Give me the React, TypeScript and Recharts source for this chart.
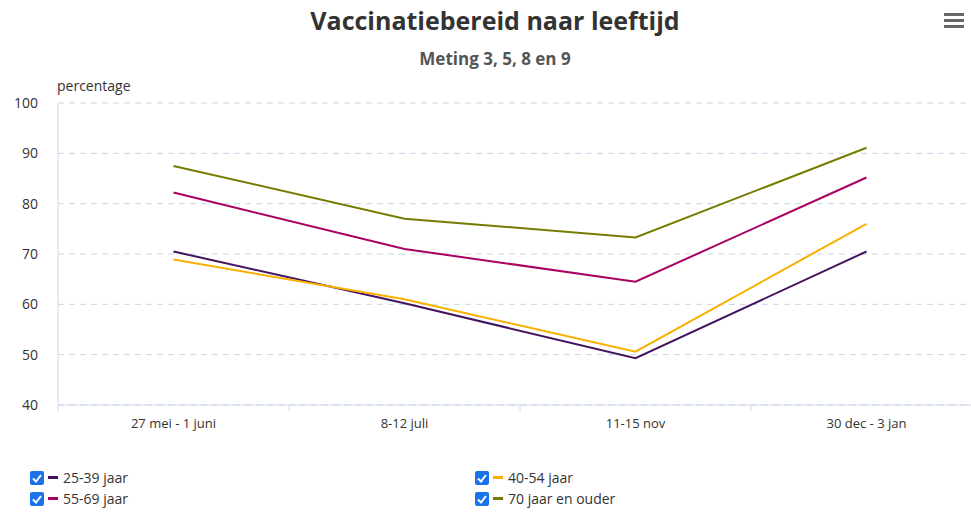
import { LineChart, Line, XAxis, YAxis, CartesianGrid } from "recharts";

const periods = ["27 mei - 1 juni", "8-12 juli", "11-15 nov", "30 dec - 3 jan"];
const age25to39 = [70.5, 60.2, 49.3, 70.5];
const age40to54 = [68.9, 61.0, 50.6, 76.0];
const age55to69 = [82.2, 71.0, 64.5, 85.2];
const age70plus = [87.5, 77.0, 73.3, 91.1];
const yTicks = [40, 50, 60, 70, 80, 90, 100];
const xTicks = [0, 0.5, 1, 1.5, 2, 2.5, 3, 3.5, 4];

const series = [
  { key: "a", name: "25-39 jaar", color: "#42145f", values: age25to39 },
  { key: "b", name: "40-54 jaar", color: "#f9b000", values: age40to54 },
  { key: "c", name: "55-69 jaar", color: "#a90061", values: age55to69 },
  { key: "d", name: "70 jaar en ouder", color: "#777c00", values: age70plus },
];

const data = periods.map((p, i) => {
  const row: Record<string, number | string> = { pos: i + 0.5, label: p };
  series.forEach((s) => (row[s.key] = s.values[i]));
  return row;
});

const FONT = "'Open Sans', sans-serif";

function XTick(props: any) {
  const { x, y, payload } = props;
  const v = payload.value as number;
  if (Number.isInteger(v)) {
    return <line x1={x} x2={x} y1={y - 8} y2={y - 2} stroke="#ccd6eb" strokeWidth={1} />;
  }
  return (
    <text x={x} y={y + 15} textAnchor="middle" fontSize={13} fill="#333" fontFamily={FONT}>
      {periods[Math.floor(v)]}
    </text>
  );
}

function Check() {
  return (
    <svg width={14} height={14} style={{ marginRight: 4 }}>
      <rect x={0} y={0} width={14} height={14} rx={2} fill="#1a73e8" />
      <path d="M3 7.5 L6 10.5 L11 4" stroke="#fff" strokeWidth={2} fill="none" />
    </svg>
  );
}

function LegendItem({ name, color }: { name: string; color: string }) {
  return (
    <div style={{ display: "flex", alignItems: "center", height: 21 }}>
      <Check />
      <span style={{ display: "inline-block", width: 10, height: 3, background: color, marginRight: 5 }} />
      <span style={{ fontSize: 14, color: "#333", fontFamily: FONT }}>{name}</span>
    </div>
  );
}

export default function App() {
  return (
    <div style={{ position: "absolute", left: 0, top: 0, width: 971, height: 515, overflow: "hidden", background: "#fff", fontFamily: FONT }}>
      <div style={{ position: "absolute", top: 3, left: 0, width: 990, textAlign: "center", fontSize: 25, fontWeight: 700, color: "#333" }}>
        Vaccinatiebereid naar leeftijd
      </div>
      <div style={{ position: "absolute", top: 47, left: 0, width: 990, textAlign: "center", fontSize: 17, fontWeight: 700, color: "#555" }}>
        Meting 3, 5, 8 en 9
      </div>
      <div style={{ position: "absolute", top: 13, left: 944, width: 20 }}>
        {[0, 1, 2].map((i) => (
          <div key={i} style={{ height: 3, background: "#666", marginBottom: 3 }} />
        ))}
      </div>
      <div style={{ position: "absolute", top: 76, left: 57, fontSize: 14, color: "#333" }}>percentage</div>
      <div style={{ position: "absolute", top: 0, left: 0 }}>
        <LineChart width={990} height={440} data={data} margin={{ top: 103, right: 8, bottom: 5, left: 0 }}>
          <CartesianGrid vertical={false} stroke="#c8d6e6" strokeDasharray="6 5" />
          <XAxis
            dataKey="pos"
            type="number"
            domain={[0, 4]}
            ticks={xTicks}
            interval={0}
            tickLine={false}
            axisLine={{ stroke: "#ccd6eb" }}
            tick={<XTick />}
            height={30}
          />
          <YAxis
            domain={[40, 100]}
            ticks={yTicks}
            width={58}
            tickLine={false}
            tickSize={0}
            tickMargin={20}
            axisLine={{ stroke: "#ccd6eb" }}
            tick={{ fontSize: 14, fill: "#333", fontFamily: FONT }}
          />
          {series.map((s) => (
            <Line
              key={s.key}
              type="linear"
              dataKey={s.key}
              name={s.name}
              stroke={s.color}
              strokeWidth={2}
              dot={false}
              isAnimationActive={false}
            />
          ))}
        </LineChart>
      </div>
      <div style={{ position: "absolute", top: 467, left: 30 }}>
        <LegendItem name={series[0].name} color={series[0].color} />
        <LegendItem name={series[2].name} color={series[2].color} />
      </div>
      <div style={{ position: "absolute", top: 467, left: 475 }}>
        <LegendItem name={series[1].name} color={series[1].color} />
        <LegendItem name={series[3].name} color={series[3].color} />
      </div>
    </div>
  );
}
